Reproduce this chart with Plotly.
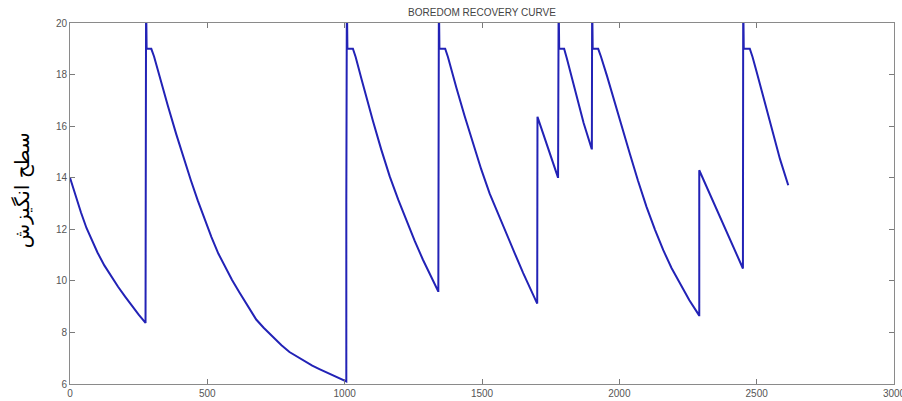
import plotly.graph_objects as go

# Values (time, arousal level)
time_vals = [
    0, 20, 40, 60, 80, 100, 125, 150, 175, 200, 225, 250, 275,
    275, 277, 279, 296,
    306, 326, 356, 387, 415, 440, 465, 490, 515, 540, 565, 590, 617, 645, 678,
    705, 736, 770, 799, 830, 856, 882, 908, 935, 960, 985, 1004,
    1006, 1006, 1008, 1010, 1030,
    1040, 1062, 1082, 1103, 1133, 1164, 1195, 1225, 1255, 1285, 1313, 1340,
    1341, 1341, 1343, 1345, 1366,
    1376, 1390, 1407, 1437, 1467, 1497, 1528, 1558, 1589, 1620, 1650, 1675, 1700,
    1701, 1702, 1740, 1776,
    1777, 1777, 1779, 1781, 1799,
    1809, 1825, 1844, 1870, 1899,
    1900, 1901, 1903, 1923,
    1933, 1955, 1978, 2008, 2038, 2068, 2099, 2130, 2160, 2190, 2220, 2255, 2290,
    2291, 2291, 2366, 2449,
    2450, 2451, 2453, 2475,
    2485, 2500, 2525, 2548, 2585, 2615,
]
level_vals = [
    14.0, 13.3, 12.65, 12.05, 11.55, 11.1, 10.6, 10.17, 9.77, 9.4, 9.03, 8.69, 8.37,
    14.2, 21.0, 19.0, 19.0,
    18.7, 17.92, 16.8, 15.68, 14.72, 13.9, 13.12, 12.38, 11.7, 11.06, 10.52, 10.03, 9.55, 9.05, 8.5,
    8.18, 7.84, 7.5, 7.24, 7.03, 6.86, 6.71, 6.58, 6.45, 6.33, 6.2, 6.1,
    6.1, 13.05, 21.0, 19.0, 19.0,
    18.68, 17.8, 17.0, 16.2, 15.1, 14.05, 13.15, 12.33, 11.55, 10.82, 10.18, 9.61,
    9.61, 14.87, 21.0, 19.0, 19.0,
    18.68, 18.12, 17.48, 16.38, 15.33, 14.33, 13.38, 12.6, 11.84, 11.05, 10.3, 9.7, 9.12,
    9.12, 16.36, 15.13, 14.03,
    14.03, 17.0, 21.0, 19.0, 19.0,
    18.62, 17.95, 17.15, 16.12, 15.13,
    15.13, 21.0, 19.0, 19.0,
    18.7, 17.95, 17.1, 16.0, 14.94, 13.88, 12.87, 11.98, 11.19, 10.5, 9.9, 9.25, 8.67,
    8.67, 14.29, 12.48, 10.48,
    10.48, 21.0, 19.0, 19.0,
    18.68, 18.1, 17.1, 16.17, 14.72, 13.71,
]

x_ticks = [0, 500, 1000, 1500, 2000, 2500, 3000]
y_ticks = [6, 8, 10, 12, 14, 16, 18, 20]

chart_title = "BOREDOM RECOVERY CURVE"
y_title = "سطح انگیزش"

fig = go.Figure()
fig.add_trace(go.Scatter(
    x=time_vals, y=level_vals, mode="lines",
    line=dict(color="#2222b6", width=2),
    showlegend=False, hoverinfo="skip",
))

axis_common = dict(
    showline=True, linecolor="#8a8a8a", linewidth=1, mirror="ticks",
    ticks="inside", ticklen=5, tickcolor="#7a7a7a", tickwidth=1,
    showgrid=False, zeroline=False, ticklabeloverflow="allow", automargin=False,
    tickfont=dict(family="Liberation Sans, Arial", size=10, color="#555555"),
)

fig.update_layout(
    width=902, height=401,
    margin=dict(l=70, r=8, t=23, b=17, autoexpand=False),
    paper_bgcolor="white", plot_bgcolor="white",
    title=dict(text=chart_title, x=0.5, xref="paper", y=1 - 12 / 401,
               yref="container", yanchor="middle", xanchor="center",
               font=dict(family="Liberation Sans, Arial", size=10, color="#444444")),
    xaxis=dict(range=[0, 3000], tickvals=x_ticks, ticktext=[str(v) for v in x_ticks], **axis_common),
    yaxis=dict(range=[6, 20], tickvals=y_ticks, ticktext=[str(v) for v in y_ticks], **axis_common),
    annotations=[dict(
        text=y_title, textangle=-90, xref="paper", yref="paper",
        x=-0.058, y=0.537, xanchor="center", yanchor="middle", showarrow=False,
        font=dict(family="DejaVu Sans", size=20, color="black"),
    )],
)

fig.write_html(
    "out.html",
    config={"displayModeBar": False},
    post_script="document.body.style.margin='0';document.body.style.overflow='hidden';",
)
